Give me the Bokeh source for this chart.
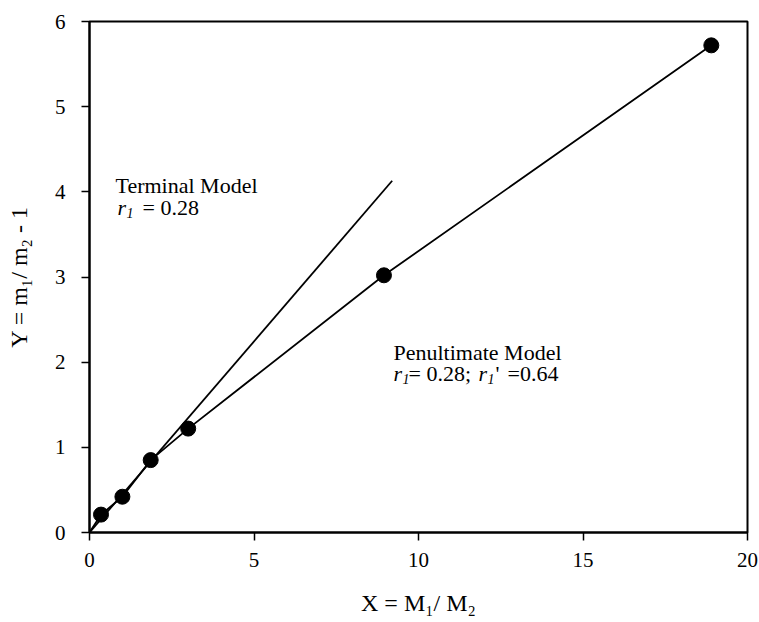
import math
from bokeh.plotting import figure
from bokeh.models import Range1d, Label
from bokeh.embed import file_html
from bokeh.resources import INLINE

# ---- data ----
x_obs = [0.35, 1.0, 1.86, 3.0, 8.95, 18.9]
y_obs = [0.21, 0.42, 0.85, 1.22, 3.02, 5.72]
penult_x = [0.0, 0.35, 1.0, 1.86, 3.0, 8.95, 18.9]
penult_y = [0.0, 0.21, 0.42, 0.85, 1.22, 3.02, 5.72]
terminal_x = [0.0, 9.2]
terminal_y = [0.0, 4.13]
x_ticks = [0, 5, 10, 15, 20]
y_ticks = [0, 1, 2, 3, 4, 5, 6]
x_label = "X = M\u2081/ M\u2082"
y_label = "Y = m\u2081/ m\u2082 - 1"

W, H = 759, 622
L, R, T, B = 89, 12, 21, 90
FX = (W - L - R) / 20.0
FY = (H - T - B) / 6.0
FONT = "Liberation Serif"

p = figure(width=W, height=H, x_range=Range1d(0, 20), y_range=Range1d(0, 6),
           output_backend="svg", toolbar_location=None,
           min_border_left=L, min_border_right=R, min_border_top=T, min_border_bottom=B)
p.background_fill_color = "white"
p.border_fill_color = "white"
p.grid.visible = False
p.outline_line_color = "black"
p.outline_line_width = 2
p.outline_line_alpha = 1.0

p.xaxis.ticker = x_ticks
p.yaxis.ticker = y_ticks
p.xaxis.axis_label = x_label
p.yaxis.axis_label = y_label
for ax in (p.xaxis, p.yaxis):
    ax.axis_line_width = 2
    ax.axis_line_color = "black"
    ax.major_tick_out = 8
    ax.major_tick_in = 0
    ax.major_tick_line_width = 1.5
    ax.major_tick_line_color = "black"
    ax.minor_tick_line_color = None
    ax.major_label_text_font = FONT
    ax.major_label_text_font_size = "21px"
    ax.major_label_text_color = "black"
    ax.axis_label_text_font = FONT
    ax.axis_label_text_font_size = "24px"
    ax.axis_label_text_font_style = "normal"
    ax.axis_label_text_color = "black"
p.xaxis.major_label_standoff = 12
p.yaxis.major_label_standoff = 16
p.xaxis.axis_label_standoff = 20
p.yaxis.axis_label_standoff = 20

p.line(penult_x, penult_y, line_color="black", line_width=1.8)
p.line(terminal_x, terminal_y, line_color="black", line_width=1.8)
p.scatter(x_obs, y_obs, size=15, fill_color="black", line_color="black")


def txt(px, py, s, size=22, italic=False):
    p.add_layout(Label(x=(px - L) / FX, y=(H - B - py) / FY, text=s,
                       text_font=FONT, text_font_size=f"{size}px",
                       text_font_style="italic" if italic else "normal",
                       text_color="black", text_align="left",
                       text_baseline="alphabetic"))


# annotations
txt(115, 185, "Terminal Model")
txt(117, 207, "r", italic=True)
txt(126, 212, "1", size=14, italic=True)
txt(142, 207, "= 0.28")

txt(393, 352, "Penultimate Model")
txt(393, 373, "r", italic=True)
txt(402, 378, "1", size=14, italic=True)
txt(408, 373, "= 0.28;")
txt(478, 373, "r", italic=True)
txt(487, 378, "1", size=14, italic=True)
txt(495, 373, "'")
txt(507, 373, "=0.64")

open("out.html", "w").write(file_html(p, INLINE))
